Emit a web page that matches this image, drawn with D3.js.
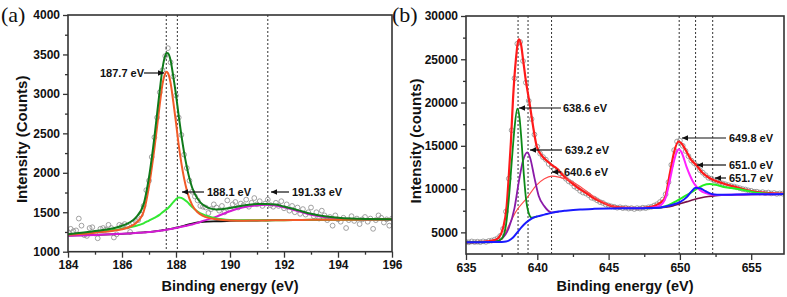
<!DOCTYPE html>
<html><head><meta charset="utf-8">
<script src="https://cdn.jsdelivr.net/npm/d3@7"></script>
<style>
body{margin:0;background:#fff;}
svg{display:block;}
.tick text{font-family:"Liberation Sans",Arial,sans-serif;font-weight:bold;font-size:12px;fill:#111;}
.tick line{stroke:#333;stroke-width:1.3;}
</style></head>
<body>
<svg id="chart" width="787" height="297"></svg>
<script>
// ---------- Panel (a) data ----------
const aCurveX = [184,185,186,186.5,186.8,187,187.2,187.4,187.5,187.6,187.65,187.7,187.8,187.9,188,188.1,188.2,188.4,188.6,188.8,189,189.5,190,190.5,191,191.33,191.7,192,192.5,193,193.5,194,195,196];
const aBackground = [1205,1212,1226,1238,1245,1250,1258,1266,1272,1278,1281,1284,1290,1297,1305,1313,1320,1340,1357,1370,1378,1386,1390,1393,1395,1397,1399,1400,1402,1404,1405,1406,1408,1410];
const aFit1877 = [1216,1241,1284,1359,1505,1829,2305,2870,3123,3258,3281,3264,3140,2898,2636,2355,2120,1780,1590,1500,1455,1410,1395,1393,1396,1397,1399,1400,1402,1404,1405,1406,1408,1410];
const aFit1881 = [1220,1245,1290,1325,1360,1395,1430,1470,1500,1525,1538,1552,1588,1628,1665,1688,1682,1635,1565,1510,1472,1422,1403,1398,1398,1397,1399,1400,1402,1404,1405,1406,1408,1410];
const aFit19133 = [1203,1212,1226,1237,1243,1249,1257,1265,1270,1275,1278,1281,1287,1293,1300,1308,1315,1330,1345,1365,1390,1445,1513,1563,1588,1595,1587,1562,1516,1469,1440,1420,1406,1409];
const aEnvelope = [1221,1261,1329,1429,1600,1944,2450,3050,3323,3483,3519,3516,3425,3218,2988,2723,2475,2075,1810,1670,1595,1535,1553,1585,1604,1605,1597,1572,1527,1480,1450,1430,1414,1411];
const aPointsX = d3.range(0,121).map(i => +(184 + i*0.1).toFixed(1)); // measured energy channels 184.0..196.0
const aPointsY = [1250,1290,1260,1270,1420,1330,1210,1200,1300,1310,
  1230,1170,1290,1300,1280,1340,1300,1180,1220,1340,
  1330,1350,1320,1250,1370,1390,1400,1470,1580,1780,
  1900,2200,2450,2700,3020,3300,3480,3580,3400,3220,
  2980,2700,2480,2230,2060,1900,1760,1700,1650,1580,
  1570,1560,1490,1540,1600,1560,1520,1580,1500,1650,
  1540,1600,1630,1560,1610,1590,1660,1570,1620,1680,
  1600,1640,1580,1610,1660,1590,1570,1620,1580,1640,
  1550,1600,1520,1580,1500,1560,1480,1540,1470,1500,
  1560,1450,1500,1420,1520,1460,1400,1440,1330,1460,
  1410,1380,1430,1300,1400,1450,1390,1420,1350,1410,
  1440,1380,1420,1290,1400,1460,1430,1370,1410,1330,1420];
const aPeakLines = [187.64, 188.05, 191.4];
const aXTicks = [184,186,188,190,192,194,196];
const aYTicks = [1000,1500,2000,2500,3000,3500,4000];

// ---------- Panel (b) data ----------
const bBackground = [[635,3850],[636,3870],[637,3880],[637.5,3900],[637.8,3950],[638,4050],[638.3,4400],[638.6,5000],[638.9,5600],[639.2,6100],[639.6,6600],[640,6850],[640.5,7050],[641,7250],[641.5,7400],[642,7500],[643,7650],[644,7720],[645,7760],[646,7780],[647,7780],[648,7820],[648.5,7850],[649,8000],[649.5,8200],[650,8500],[650.5,9100],[650.8,9700],[651.1,10150],[651.4,10100],[651.8,9750],[652.2,9450],[652.6,9350],[653,9340],[654,9370],[655,9390],[656,9400],[657.3,9420]];
const bBackground2 = [[647,7780],[648,7800],[648.5,7830],[649,7900],[649.5,8050],[650,8300],[650.5,8550],[651,8800],[651.5,9000],[652,9150],[652.5,9250],[653,9300],[654,9350],[655,9380],[657.3,9420]];
const bFit6386 = [[635,3850],[637,3900],[637.5,4250],[637.8,5800],[638,8800],[638.2,13000],[638.4,17000],[638.6,19300],[638.75,18300],[638.9,15400],[639.05,11800],[639.2,9000],[639.4,7200],[639.6,6700],[640,6850]];
const bFit6392 = [[635,3850],[637,3900],[637.5,4250],[638,5500],[638.4,7800],[638.7,10800],[639,13300],[639.3,14250],[639.5,13600],[639.8,11300],[640.1,9200],[640.5,8000],[641,7300],[641.5,7400]];
const bFit6406 = [[635,3850],[637,3900],[637.5,4200],[638,5800],[638.5,7400],[639.25,8930],[639.95,10470],[640.5,11200],[641,11500],[641.6,11350],[642.28,11000],[643,10300],[643.5,9700],[644,9100],[644.5,8600],[645,8200],[645.5,7950],[646,7800],[647,7780]];
const bFit6498 = [[646,7780],[647,7780],[648,7850],[648.5,8000],[648.8,8360],[649,9000],[649.3,11050],[649.55,13000],[649.76,14200],[649.9,14600],[650.1,14300],[650.46,12600],[650.7,11600],[650.92,10850],[651.15,10300],[651.39,9900],[651.86,9500],[652.3,9350],[653,9330],[655,9390],[657.3,9420]];
const bFit6517 = [[646,7780],[647,7780],[648,7820],[648.6,7870],[649.2,8150],[649.76,8620],[650.2,9050],[650.69,9510],[651.2,10050],[651.62,10430],[652.09,10590],[652.5,10500],[653,10280],[653.6,10120],[654.2,9980],[654.8,9780],[655.4,9580],[656.2,9470],[657.3,9420]];
const bEnvelope = [[635,3850],[636,3900],[636.5,3950],[637,4100],[637.3,4400],[637.6,5500],[637.85,8000],[638,11500],[638.15,15500],[638.3,20500],[638.5,25000],[638.7,27300],[638.85,26800],[639,25000],[639.2,22500],[639.45,20000],[639.7,17300],[639.95,15000],[640.3,13900],[640.65,13300],[641,12800],[641.35,12400],[641.8,11600],[642.28,10900],[642.8,10200],[643.45,9510],[644,8900],[644.5,8500],[645,8150],[645.5,7950],[646,7850],[647,7800],[648,7950],[648.5,8300],[648.94,8940],[649.3,11830],[649.6,14320],[649.9,15500],[650.1,15300],[650.4,14520],[650.8,13360],[651.15,12780],[651.6,11850],[652.1,11250],[653,10670],[654,10200],[654.9,9810],[656,9580],[657.3,9480]];
const bPointsX = d3.range(0,112).map(i => +(635 + i*0.2).toFixed(1)); // measured energy channels 635.0..657.2
const bPointsY = [3900,3850,3950,3880,3920,3870,3960,3900,4000,4050,
  4150,4300,4600,5400,7400,11200,16800,22800,26800,27000,
  24800,22300,20200,18100,16300,14900,14100,13700,13400,12900,
  12600,12300,12100,11800,11500,11200,10900,10700,10300,10100,
  9800,9600,9500,9300,9000,8900,8700,8500,8400,8200,
  8100,8000,7950,7850,7900,7800,7850,7750,7800,7700,
  7800,7750,7850,7800,7900,7950,8100,8250,8500,8800,
  9400,10800,12800,14500,15500,15600,15000,14400,13800,13300,
  13000,12700,12200,11900,11600,11300,11200,11000,10900,10750,
  10650,10550,10450,10350,10300,10200,10100,10000,9950,9850,
  9800,9700,9700,9600,9650,9550,9600,9500,9550,9450,9500,9480];
const bPeakLines = [638.65, 639.35, 641.0, 649.95, 651.1, 652.3];
const bXTicks = [635,640,645,650,655];
const bYTicks = [5000,10000,15000,20000,25000,30000];

// ---------- drawing ----------
const svg = d3.select("#chart");
const FONT = '"Liberation Sans", Arial, sans-serif';

function panel(cfg){
  const g = svg.append("g");
  const x = d3.scaleLinear().domain(cfg.xDomain).range([cfg.left, cfg.right]);
  const y = d3.scaleLinear().domain(cfg.yDomain).range([cfg.bottom, cfg.top]);
  const clipId = "clip" + cfg.id;
  svg.append("clipPath").attr("id", clipId).append("rect")
    .attr("x", cfg.left).attr("y", cfg.top).attr("width", cfg.right-cfg.left).attr("height", cfg.bottom-cfg.top);
  const plot = g.append("g").attr("clip-path", `url(#${clipId})`);

  plot.selectAll("line.peak").data(cfg.peakLines).join("line")
    .attr("x1", d=>x(d)).attr("x2", d=>x(d)).attr("y1", cfg.top).attr("y2", cfg.bottom)
    .attr("stroke", "#333").attr("stroke-width", 1).attr("stroke-dasharray", "2,2");

  plot.selectAll("circle").data(cfg.points).join("circle")
    .attr("cx", d=>x(d[0])).attr("cy", d=>y(d[1])).attr("r", 2.4)
    .attr("fill", "none").attr("stroke", "#8a8a8a").attr("stroke-width", 0.8);

  const line = d3.line().x(d=>x(d[0])).y(d=>y(d[1])).curve(d3.curveMonotoneX);
  cfg.curves.forEach(c=>{
    plot.append("path").attr("d", line(c.data)).attr("fill","none")
      .attr("stroke", c.color).attr("stroke-width", c.w);
  });

  g.append("g").attr("transform", `translate(0,${cfg.bottom})`)
    .call(d3.axisBottom(x).tickValues(cfg.xMinor).tickSize(3).tickFormat(""))
    .call(s=>s.select(".domain").remove());
  g.append("g").attr("transform", `translate(0,${cfg.bottom})`)
    .call(d3.axisBottom(x).tickValues(cfg.xTicks).tickSize(6).tickPadding(3).tickFormat(d3.format("d")))
    .call(s=>s.select(".domain").remove());
  g.append("g").attr("transform", `translate(${cfg.left},0)`)
    .call(d3.axisLeft(y).tickValues(cfg.yMinor).tickSize(3).tickFormat(""))
    .call(s=>s.select(".domain").remove());
  g.append("g").attr("transform", `translate(${cfg.left},0)`)
    .call(d3.axisLeft(y).tickValues(cfg.yTicks).tickSize(5).tickPadding(3).tickFormat(d3.format("d")))
    .call(s=>s.select(".domain").remove());

  g.append("rect").attr("x", cfg.left).attr("y", cfg.top)
    .attr("width", cfg.right-cfg.left).attr("height", cfg.bottom-cfg.top)
    .attr("fill","none").attr("stroke","#333").attr("stroke-width",1.6);

  g.append("text").attr("x", (cfg.left+cfg.right)/2).attr("y", 291)
    .attr("text-anchor","middle").attr("font-family", FONT).attr("font-weight","bold")
    .attr("font-size","14.5px").attr("fill","#111").text("Binding energy (eV)");
  g.append("text").attr("transform", `translate(${cfg.yTitleX},${(cfg.top+cfg.bottom)/2+6}) rotate(-90)`)
    .attr("text-anchor","middle").attr("font-family", FONT).attr("font-weight","bold")
    .attr("font-size","15px").attr("fill","#111").text(cfg.yTitle);
  g.append("text").attr("x", cfg.tagX).attr("y", 22)
    .attr("font-family", '"Liberation Serif","DejaVu Serif",serif')
    .attr("font-size","22px").attr("fill","#111").text(cfg.tag);

  cfg.notes.forEach(n=>{
    g.append("line").attr("x1", n.ax0).attr("x2", n.ax1).attr("y1", n.ay).attr("y2", n.ay)
      .attr("stroke","#111").attr("stroke-width",1.2);
    const dir = n.ax1 < n.ax0 ? 1 : -1;
    g.append("path")
      .attr("d", `M${n.ax1},${n.ay} L${n.ax1+dir*6},${n.ay-2.8} L${n.ax1+dir*6},${n.ay+2.8} Z`)
      .attr("fill","#111");
    g.append("text").attr("x", n.tx).attr("y", n.ty)
      .attr("font-family", FONT).attr("font-weight","bold").attr("font-size","11px")
      .attr("fill","#111").text(n.label);
  });
}

panel({
  id:"a", left:68, right:392, top:15, bottom:251.7,
  xDomain:[184,196], yDomain:[1000,4000],
  xTicks:aXTicks, xMinor:[185,187,189,191,193,195],
  yTicks:aYTicks, yMinor:[1250,1750,2250,2750,3250,3750],
  peakLines:aPeakLines,
  points:aPointsX.map((v,i)=>[v,aPointsY[i]]),
  curves:[
    {data:aCurveX.map((v,i)=>[v,aBackground[i]]), color:"#111111", w:1.8},
    {data:aCurveX.map((v,i)=>[v,aFit19133[i]]), color:"#d41cd4", w:2},
    {data:aCurveX.map((v,i)=>[v,aFit1881[i]]), color:"#33e833", w:2},
    {data:aCurveX.map((v,i)=>[v,aFit1877[i]]), color:"#f25a28", w:2},
    {data:aCurveX.map((v,i)=>[v,aEnvelope[i]]), color:"#0f7a1a", w:2}
  ],
  yTitle:"Intensity (Counts)", yTitleX:27, tag:"(a)", tagX:1,
  notes:[
    {label:"187.7 eV", tx:100, ty:77, ax0:144, ax1:164, ay:73},
    {label:"188.1 eV", tx:207, ty:196, ax0:204, ax1:182, ay:192},
    {label:"191.33 eV", tx:292, ty:196, ax0:289, ax1:271, ay:192}
  ]
});

panel({
  id:"b", left:466, right:784, top:16, bottom:254,
  xDomain:[635,657.3], yDomain:[2500,30000],
  xTicks:bXTicks, xMinor:[637.5,642.5,647.5,652.5],
  yTicks:bYTicks, yMinor:[7500,12500,17500,22500,27500],
  peakLines:bPeakLines,
  points:bPointsX.map((v,i)=>[v,bPointsY[i]]),
  curves:[
    {data:bEnvelope, color:"#ff1a1a", w:2.2},
    {data:bFit6406, color:"#ff4a4a", w:1.1},
    {data:bFit6392, color:"#8a1aa8", w:1.8},
    {data:bFit6386, color:"#0c8a18", w:1.8},
    {data:bBackground2, color:"#7a1048", w:1.6},
    {data:bFit6517, color:"#22f022", w:2},
    {data:bFit6498, color:"#ff22ff", w:2},
    {data:bBackground, color:"#1a1aff", w:2}
  ],
  yTitle:"Intensity (counts)", yTitleX:421, tag:"(b)", tagX:392,
  notes:[
    {label:"638.6 eV", tx:563, ty:112, ax0:561, ax1:519, ay:108},
    {label:"639.2 eV", tx:565, ty:154, ax0:562, ax1:530, ay:150},
    {label:"640.6 eV", tx:564, ty:176, ax0:561, ax1:552, ay:172},
    {label:"649.8 eV", tx:729, ty:142, ax0:726, ax1:682, ay:138},
    {label:"651.0 eV", tx:729, ty:169, ax0:726, ax1:697, ay:165},
    {label:"651.7 eV", tx:729, ty:182, ax0:726, ax1:715, ay:178}
  ]
});
</script>
</body></html>
